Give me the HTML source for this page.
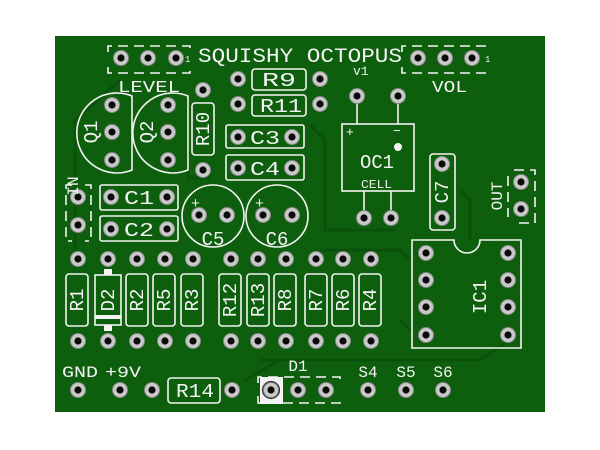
<!DOCTYPE html>
<html><head><style>
html,body{margin:0;padding:0;background:#fff;}
svg{display:block;}
text{font-family:"Liberation Mono","DejaVu Sans Mono",monospace;fill:#f4f4f4;}
</style></head><body>
<svg width="600" height="450" viewBox="0 0 600 450" xmlns="http://www.w3.org/2000/svg">
<defs>
<g id="pad"><circle r="7.5" fill="#c9c9c9" stroke="#888" stroke-width="1"/><circle r="3.6" fill="#0a0a0a"/></g>
</defs>
<rect x="55" y="36" width="490" height="376" fill="#0d5e0d"/>
<g fill="none" stroke="#0a4f0a" stroke-width="3" opacity="0.8">
<path d="M120 80 L75 120 L75 250"/>
<path d="M310 125 L325 140 L325 230 L395 230"/>
<path d="M188 150 L188 178 L210 178"/>
<path d="M470 240 L470 200 L460 190"/>
<path d="M260 360 L480 360 L510 340"/>
<path d="M245 380 L280 360"/>
<path d="M320 250 L400 250 L410 260"/>
<path d="M400 320 L410 330"/>
</g>
<g fill="none" stroke="#f4f4f4" stroke-width="1.6">
<path d="M108 52 V46 H190 V52 M108 67 V73 H190 V67" stroke-dasharray="10 6"/>
<path d="M402 52 V46 H486 V52 M402 67 V73 H486 V67" stroke-dasharray="10 6"/>
<rect x="252" y="69" width="54" height="21" rx="3"/>
<rect x="252" y="95" width="54" height="21" rx="3"/>
<rect x="192" y="103" width="22" height="52" rx="3"/>
<path d="M132 96 A40 40 0 1 0 132 170 Z"/>
<path d="M188 96 A40 40 0 1 0 188 170 Z"/>
<rect x="226" y="125" width="78" height="23" rx="2"/>
<rect x="226" y="155" width="78" height="25" rx="2"/>
<rect x="100" y="185" width="78" height="25" rx="2"/>
<rect x="100" y="216" width="78" height="25" rx="2"/>
<path d="M72 185 H66 V241 H72 M85 185 H91 V241 H85" stroke-dasharray="10 6"/>
<circle cx="213" cy="216" r="31"/>
<circle cx="277" cy="216" r="31"/>
<rect x="342" y="124" width="72" height="67"/>
<path d="M357 103 V124 M398 103 V124 M364 191 V211 M391 191 V211"/>
<rect x="430" y="154" width="25" height="76" rx="3"/>
<path d="M514 170 H535 V223 H514 M508 176 V217" stroke-dasharray="10 6"/>
<path d="M412 240 H454 A13 13 0 0 0 480 240 H521 V348 H412 Z"/>
<rect x="66" y="274" width="22" height="52" rx="3"/>
<rect x="95" y="275" width="26" height="50"/>
<rect x="126" y="274" width="22" height="52" rx="3"/>
<rect x="153" y="274" width="22" height="52" rx="3"/>
<rect x="181" y="274" width="22" height="52" rx="3"/>
<rect x="219" y="274" width="22" height="52" rx="3"/>
<rect x="247" y="274" width="22" height="52" rx="3"/>
<rect x="274" y="274" width="22" height="52" rx="3"/>
<rect x="305" y="274" width="22" height="52" rx="3"/>
<rect x="332" y="274" width="22" height="52" rx="3"/>
<rect x="359" y="274" width="22" height="52" rx="3"/>
<rect x="168" y="378" width="52" height="25" rx="3"/>
<path d="M258 383 V377 H340 V383 M258 396 V403 H340 V396" stroke-dasharray="10 6"/>
</g>
<rect x="104" y="269" width="8" height="6" fill="#f4f4f4"/>
<rect x="104" y="325" width="8" height="6" fill="#f4f4f4"/>
<rect x="95" y="315" width="26" height="4" fill="#f4f4f4"/>
<rect x="260" y="377" width="23" height="27" fill="#f4f4f4"/>
<circle cx="398" cy="147" r="4" fill="#f4f4f4"/>
<g>
<use href="#pad" x="121" y="58"/><use href="#pad" x="148" y="58"/><use href="#pad" x="176" y="58"/>
<use href="#pad" x="418" y="58"/><use href="#pad" x="445" y="58"/><use href="#pad" x="472" y="58"/>
<use href="#pad" x="238" y="79"/><use href="#pad" x="320" y="79"/>
<use href="#pad" x="238" y="104"/><use href="#pad" x="320" y="104"/>
<use href="#pad" x="203" y="90"/><use href="#pad" x="203" y="170"/>
<use href="#pad" x="112" y="105"/><use href="#pad" x="112" y="132"/><use href="#pad" x="112" y="160"/>
<use href="#pad" x="168" y="105"/><use href="#pad" x="168" y="132"/><use href="#pad" x="168" y="160"/>
<use href="#pad" x="238" y="137"/><use href="#pad" x="292" y="137"/>
<use href="#pad" x="238" y="168"/><use href="#pad" x="292" y="168"/>
<use href="#pad" x="111" y="197"/><use href="#pad" x="167" y="197"/>
<use href="#pad" x="111" y="229"/><use href="#pad" x="167" y="229"/>
<use href="#pad" x="78" y="197"/><use href="#pad" x="78" y="225"/>
<use href="#pad" x="199" y="215"/><use href="#pad" x="227" y="215"/>
<use href="#pad" x="263" y="215"/><use href="#pad" x="292" y="215"/>
<use href="#pad" x="357" y="96"/><use href="#pad" x="398" y="96"/>
<use href="#pad" x="364" y="218"/><use href="#pad" x="391" y="218"/>
<use href="#pad" x="442" y="164"/><use href="#pad" x="442" y="218"/>
<use href="#pad" x="521" y="182"/><use href="#pad" x="521" y="209"/>
<use href="#pad" x="426" y="253"/><use href="#pad" x="426" y="280"/><use href="#pad" x="426" y="307"/><use href="#pad" x="426" y="335"/>
<use href="#pad" x="508" y="253"/><use href="#pad" x="508" y="280"/><use href="#pad" x="508" y="307"/><use href="#pad" x="508" y="335"/>
<use href="#pad" x="78" y="259"/><use href="#pad" x="108" y="259"/><use href="#pad" x="137" y="259"/><use href="#pad" x="165" y="259"/><use href="#pad" x="193" y="259"/>
<use href="#pad" x="231" y="259"/><use href="#pad" x="258" y="259"/><use href="#pad" x="286" y="259"/><use href="#pad" x="316" y="259"/><use href="#pad" x="343" y="259"/><use href="#pad" x="371" y="259"/>
<use href="#pad" x="78" y="341"/><use href="#pad" x="108" y="341"/><use href="#pad" x="137" y="341"/><use href="#pad" x="165" y="341"/><use href="#pad" x="193" y="341"/>
<use href="#pad" x="231" y="341"/><use href="#pad" x="258" y="341"/><use href="#pad" x="286" y="341"/><use href="#pad" x="316" y="341"/><use href="#pad" x="343" y="341"/><use href="#pad" x="371" y="341"/>
<use href="#pad" x="78" y="390"/><use href="#pad" x="120" y="390"/><use href="#pad" x="152" y="390"/><use href="#pad" x="232" y="390"/>
<use href="#pad" x="271" y="390"/><use href="#pad" x="298" y="390"/><use href="#pad" x="326" y="390"/>
<use href="#pad" x="368" y="390"/><use href="#pad" x="406" y="390"/><use href="#pad" x="443" y="390"/>
</g>
<circle cx="271" cy="390" r="8.5" fill="none" stroke="#333" stroke-width="1.2"/>
<g font-size="19">
<text x="198" y="62" textLength="204" lengthAdjust="spacingAndGlyphs" font-size="20">SQUISHY OCTOPUS</text>
<text x="353" y="75" font-size="13">v1</text>
<text x="118" y="92" textLength="62" lengthAdjust="spacingAndGlyphs" font-size="17">LEVEL</text>
<text x="432" y="92" textLength="35" lengthAdjust="spacingAndGlyphs" font-size="17">VOL</text>
<text x="185" y="62" font-size="9">1</text>
<text x="485" y="62" font-size="9">1</text>
<text x="262" y="86" textLength="34" lengthAdjust="spacingAndGlyphs">R9</text>
<text x="260" y="112" textLength="42" lengthAdjust="spacingAndGlyphs">R11</text>
<text x="250" y="144" textLength="30" lengthAdjust="spacingAndGlyphs">C3</text>
<text x="250" y="175" textLength="30" lengthAdjust="spacingAndGlyphs">C4</text>
<text x="124" y="204" textLength="30" lengthAdjust="spacingAndGlyphs">C1</text>
<text x="124" y="236" textLength="30" lengthAdjust="spacingAndGlyphs">C2</text>
<text x="213" y="245" text-anchor="middle">C5</text>
<text x="277" y="245" text-anchor="middle">C6</text>
<text x="191" y="208" font-size="15">+</text>
<text x="255" y="208" font-size="15">+</text>
<text x="360" y="168" textLength="34" lengthAdjust="spacingAndGlyphs">OC1</text>
<text x="361" y="188" textLength="31" lengthAdjust="spacingAndGlyphs" font-size="12">CELL</text>
<text x="346" y="136" font-size="13">+</text>
<text x="393" y="135" font-size="13">−</text>
<text x="62" y="377" textLength="36" lengthAdjust="spacingAndGlyphs" font-size="16">GND</text>
<text x="105" y="377" textLength="36" lengthAdjust="spacingAndGlyphs" font-size="16">+9V</text>
<text x="176" y="397" textLength="38" lengthAdjust="spacingAndGlyphs">R14</text>
<text x="298" y="371" text-anchor="middle" font-size="16">D1</text>
<text x="368" y="377" text-anchor="middle" font-size="16">S4</text>
<text x="406" y="377" text-anchor="middle" font-size="16">S5</text>
<text x="443" y="377" text-anchor="middle" font-size="16">S6</text>
<g text-anchor="middle">
<text transform="translate(97,132) rotate(-90)">Q1</text>
<text transform="translate(153,132) rotate(-90)">Q2</text>
<text transform="translate(209,129) rotate(-90)">R10</text>
<text transform="translate(78,186) rotate(-90)" font-size="16">IN</text>
<text transform="translate(448,192) rotate(-90)">C7</text>
<text transform="translate(502,196) rotate(-90)" font-size="16">OUT</text>
<text transform="translate(486,297) rotate(-90)">IC1</text>
<text transform="translate(83,300) rotate(-90)">R1</text>
<text transform="translate(114,300) rotate(-90)">D2</text>
<text transform="translate(143,300) rotate(-90)">R2</text>
<text transform="translate(170,300) rotate(-90)">R5</text>
<text transform="translate(198,300) rotate(-90)">R3</text>
<text transform="translate(236,300) rotate(-90)">R12</text>
<text transform="translate(264,300) rotate(-90)">R13</text>
<text transform="translate(291,300) rotate(-90)">R8</text>
<text transform="translate(322,300) rotate(-90)">R7</text>
<text transform="translate(349,300) rotate(-90)">R6</text>
<text transform="translate(376,300) rotate(-90)">R4</text>
</g>
</g>
</svg>
</body></html>
